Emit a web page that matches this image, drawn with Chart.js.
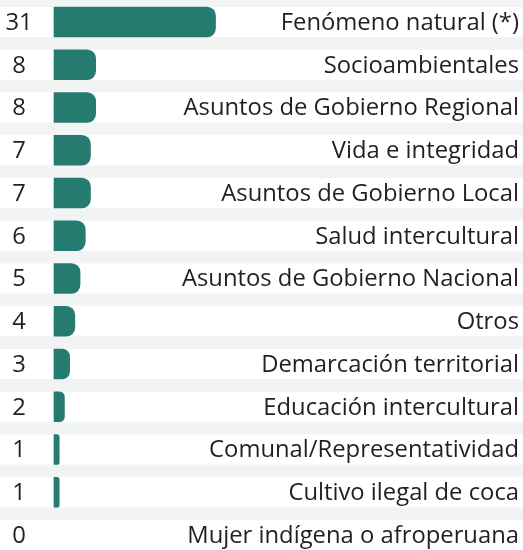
<!DOCTYPE html>
<html>
<head>
<meta charset="utf-8">
<script src="https://cdn.jsdelivr.net/npm/chart.js@4"></script>
<style>
  html, body { margin: 0; padding: 0; background: #fff; }
  #wrap { width: 523px; height: 550px; }
</style>
</head>
<body>
<div id="wrap"><canvas id="temasChart"></canvas></div>
<script>
// categorias y cantidades
const categorias = [
  'Fenómeno natural (*)',
  'Socioambientales',
  'Asuntos de Gobierno Regional',
  'Vida e integridad',
  'Asuntos de Gobierno Local',
  'Salud intercultural',
  'Asuntos de Gobierno Nacional',
  'Otros',
  'Demarcación territorial',
  'Educación intercultural',
  'Comunal/Representatividad',
  'Cultivo ilegal de coca',
  'Mujer indígena o afroperuana'
];
const cantidades = [31, 8, 8, 7, 7, 6, 5, 4, 3, 2, 1, 1, 0];

const FUENTE = '"Open Sans", sans-serif';

// franjas blancas sobre fondo gris, una por fila
const franjas = {
  id: 'franjas',
  beforeDraw(chart) {
    const ctx = chart.ctx;
    const y = chart.scales.y;
    ctx.save();
    ctx.fillStyle = '#f2f4f4';
    ctx.fillRect(0, 0, chart.width, chart.height);
    ctx.fillStyle = '#ffffff';
    categorias.forEach((c, i) => {
      const py = y.getPixelForValue(i);
      ctx.fillRect(0, py - 15, chart.width, 30);
    });
    ctx.restore();
  }
};

// cantidades a la izquierda, nombres alineados a la derecha
const textos = {
  id: 'textos',
  afterDatasetsDraw(chart) {
    const ctx = chart.ctx;
    const y = chart.scales.y;
    ctx.save();
    ctx.font = '23.8px ' + FUENTE;
    ctx.fillStyle = '#231f20';
    ctx.textBaseline = 'middle';
    categorias.forEach((c, i) => {
      const py = y.getPixelForValue(i) + 1;
      ctx.textAlign = 'center';
      ctx.fillText(String(cantidades[i]), 19, py);
      ctx.textAlign = 'right';
      ctx.fillText(c, chart.width - 4, py);
    });
    ctx.restore();
  }
};

const ctx = document.getElementById('temasChart').getContext('2d');
const temasChart = new Chart(ctx, {
  type: 'bar',
  data: {
    labels: categorias,
    datasets: [{
      data: cantidades,
      backgroundColor: (c) => c.raw === 0 ? 'rgba(0,0,0,0)' : '#267b71',
      borderRadius: 9,
      barThickness: 30,
      clip: false
    }]
  },
  options: {
    indexAxis: 'y',
    responsive: true,
    maintainAspectRatio: false,
    animation: false,
    layout: { padding: { top: 22, bottom: 15, left: 54, right: 0 } },
    plugins: {
      legend: { display: false },
      tooltip: { enabled: false }
    },
    scales: {
      x: {
        display: false,
        min: 0,
        max: 90
      },
      y: {
        display: false,
        offset: false
      }
    }
  },
  plugins: [franjas, textos]
});
</script>
</body>
</html>
